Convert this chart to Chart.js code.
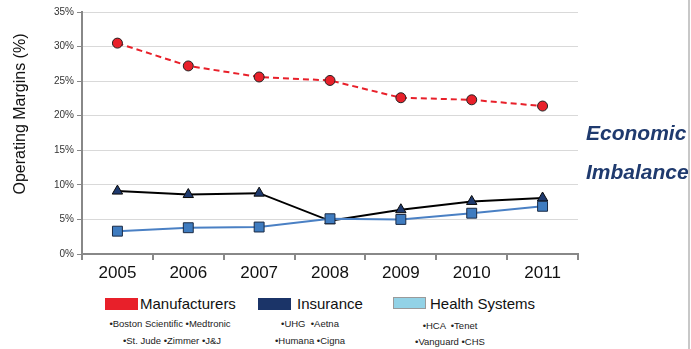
<!DOCTYPE html>
<html><head><meta charset="utf-8">
<script src="https://cdn.jsdelivr.net/npm/chart.js@4"></script>
<style>
html,body{margin:0;padding:0;background:#fff;}
#wrap{position:relative;width:691px;height:349px;overflow:hidden;font-family:"Liberation Sans",Arial,sans-serif;}
#cv{position:absolute;left:0;top:0;}
.lg{position:absolute;font-size:15px;color:#111;line-height:16px;}
.box{position:absolute;width:33px;height:12px;}
.sub{position:absolute;font-size:9.5px;color:#222;text-align:center;width:160px;line-height:10px;}
.ei{position:absolute;left:586px;font-size:21px;font-weight:bold;font-style:italic;color:#1f3a6e;line-height:21px;}
#edge{position:absolute;left:688px;top:0;width:2px;height:349px;background:#c8c8c8;}
#ytitle{position:absolute;left:20px;top:114px;width:200px;height:18px;margin-left:-100px;margin-top:-9px;text-align:center;font-size:16px;line-height:18px;color:#111;transform:rotate(-90deg);white-space:nowrap;}
</style></head>
<body>
<div id="wrap">
<canvas id="cv" width="691" height="290"></canvas>
<div id="ytitle">Operating Margins (%)</div>
<div class="box" style="left:105px;top:298px;background:#e8202a;"></div>
<div class="lg" style="left:140px;top:296px;">Manufacturers</div>
<div class="box" style="left:258px;top:298px;background:#1b3468;"></div>
<div class="lg" style="left:297px;top:296px;">Insurance</div>
<div class="box" style="left:393px;top:297px;width:31px;height:10px;background:#92d2e6;border:1px solid #9a9a9a;"></div>
<div class="lg" style="left:430px;top:296px;">Health Systems</div>
<div class="sub" style="left:90px;top:319px;">•Boston Scientific •Medtronic</div>
<div class="sub" style="left:92px;top:336px;">•St. Jude •Zimmer •J&amp;J</div>
<div class="sub" style="left:230px;top:319px;">•UHG &nbsp;•Aetna</div>
<div class="sub" style="left:230px;top:336px;">•Humana •Cigna</div>
<div class="sub" style="left:370px;top:321px;">•HCA &nbsp;•Tenet</div>
<div class="sub" style="left:370px;top:337px;">•Vanguard •CHS</div>
<div class="ei" style="top:122px;">Economic</div>
<div class="ei" style="top:161px;">Imbalance</div>
<div id="edge"></div>
</div>
<script>
const years = ['2005','2006','2007','2008','2009','2010','2011'];
const manufacturers = [30.5, 27.2, 25.6, 25.1, 22.6, 22.3, 21.4];
const insurance = [9.1, 8.6, 8.8, 4.8, 6.4, 7.6, 8.1];
const healthSystems = [3.3, 3.8, 3.9, 5.1, 5.0, 5.9, 6.9];
const yTicks = [0,5,10,15,20,25,30,35];

new Chart(document.getElementById('cv'), {
  type: 'line',
  data: {
    labels: years,
    datasets: [
      {label:'Health Systems', data: healthSystems, borderColor:'#4a80c4', borderWidth:2,
       pointStyle:'rect', pointRadius:7, pointBackgroundColor:'#3f7cc0', pointBorderColor:'#1a2a44', pointBorderWidth:1, tension:0},
      {label:'Insurance', data: insurance, borderColor:'#000', borderWidth:2,
       pointStyle:'triangle', pointRadius:6, pointBackgroundColor:'#1f3a6e', pointBorderColor:'#0a0a0a', pointBorderWidth:1, tension:0},
      {label:'Manufacturers', data: manufacturers, borderColor:'#e8202a', borderWidth:2, borderDash:[6,4],
       pointStyle:'circle', pointRadius:5, pointBackgroundColor:'#e8202a', pointBorderColor:'#222', pointBorderWidth:1, tension:0}
    ]
  },
  options: {
    responsive:false, animation:false, devicePixelRatio:1,
    layout:{padding:{left:0, top:12, right:113, bottom:0}},
    plugins:{legend:{display:false}, tooltip:{enabled:false}},
    scales:{
      x:{
        offset:true,
        grid:{display:true, offset:true, drawOnChartArea:false, drawTicks:true, tickLength:6, color:'#888', lineWidth:2},
        border:{display:true, color:'#888', width:2},
        ticks:{color:'#111', font:{size:17, family:'"Liberation Sans", Arial, sans-serif'}, padding:3, maxRotation:0},
        afterFit:(s)=>{s.height = 36;}
      },
      y:{
        min:0, max:35,
        afterBuildTicks:(s)=>{s.ticks = yTicks.map(v=>({value:v}));},
        grid:{color:'#d9d9d9', lineWidth:1, tickLength:5, tickColor:'#888'},
        border:{display:true, color:'#888', width:2},
        ticks:{color:'#333', font:{size:10, family:'"Liberation Sans", Arial, sans-serif'}, padding:3, callback:(v)=>v+'%'},
        afterFit:(s)=>{s.width = 82;}
      }
    }
  }
});
</script>
</body></html>
